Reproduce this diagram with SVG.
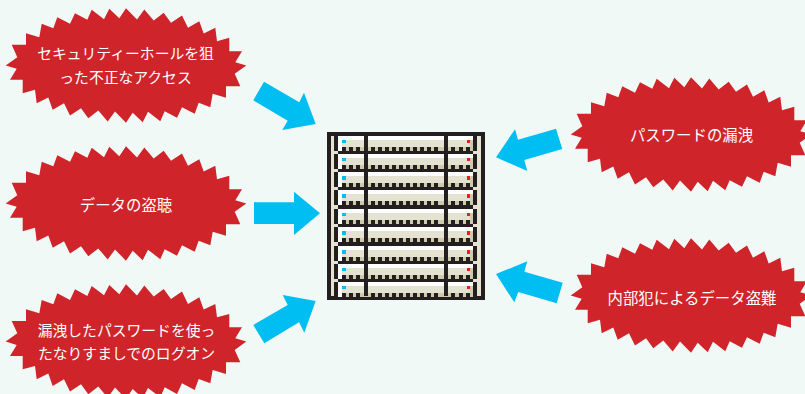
<svg xmlns="http://www.w3.org/2000/svg" width="805" height="394" viewBox="0 0 805 394">
<style>
.t{font-family:"Noto Sans CJK JP","Liberation Sans",sans-serif;font-size:15.4px;fill:#fff;text-anchor:middle}
.s{font-size:14.8px}
.b{fill:#d0242b}
.a{fill:#00bdf2}
.d{fill:#231f20}
.c{fill:#e4e2d0}
.e{fill:#cfcba8}
.r{fill:#ed1c24}
</style>
<defs>
<polygon id="burst" class="b" points="-120.3,0 -108.7,-8.3 -114.3,-20.7 -100,-20.7 -100,-32.3 -86.7,-28.3 -84.3,-41.7 -72.7,-37.3 -68.7,-48.3 -56,-41.7 -51,-52.3 -38.7,-45.7 -34.3,-55.7 -22,-46.3 -16.7,-56.7 -6.7,-47.3 0,-57.3 11,-46 18.3,-56 27.7,-45 37.7,-52.7 45,-42.7 56,-50 62,-37.7 73.3,-44.3 77.7,-32 89.3,-37.7 91,-24.3 103.3,-27.7 103.3,-14.3 116,-14.3 109.3,-3.3 120.3,0 108.7,8.3 114.3,20.7 100,20.7 100,32.3 86.7,28.3 84.3,41.7 72.7,37.3 68.7,48.3 56,41.7 51,52.3 38.7,45.7 34.3,55.7 22,46.3 16.7,56.7 6.7,47.3 0,57.3 -11,46 -18.3,56 -27.7,45 -37.7,52.7 -45,42.7 -56,50 -62,37.7 -73.3,44.3 -77.7,32 -89.3,37.7 -91,24.3 -103.3,27.7 -103.3,14.3 -116,14.3 -109.3,3.3"/>
<g id="unit">
<rect x="334" y="0" width="143" height="15" class="d"/>
<rect x="338" y="0" width="135" height="15" fill="#fff"/>
<rect x="342" y="4" width="131" height="7" class="c"/>
<rect x="470" y="4" width="3" height="11" class="e"/>
<rect x="342" y="11" width="131" height="4" class="e"/>
<rect x="342" y="4" width="4" height="3" class="a"/>
<rect x="467" y="4" width="3" height="3" class="r"/>
<path class="d" d="M342 11h4v4h-4zM349 11h4v4h-4zM356 11h4v4h-4zM371 11h4v4h-4zM378 11h4v4h-4zM385 11h4v4h-4zM392 11h4v4h-4zM399 11h4v4h-4zM406 11h4v4h-4zM413 11h4v4h-4zM420 11h4v4h-4zM427 11h4v4h-4zM434 11h4v4h-4zM451 11h4v4h-4zM459 11h4v4h-4zM466 11h4v4h-4z"/>
</g>
</defs>
<rect width="805" height="394" fill="#f1f9f6"/>
<g id="connectors">
<polygon class="a" points="264,81.7 299.3,102.3 304,92.7 315.7,124 282.3,130 287.7,120.7 253.3,100.3"/>
<polygon class="a" points="254,202.3 294,202.3 294,191.7 320,213.3 294,235 294,224 254,224"/>
<polygon class="a" points="253.3,325 287.7,305 282.7,295 315.7,301 304.3,332.7 299,322.3 264.3,343.3"/>
<polygon class="a" points="556,128.7 562.3,149 524.3,160 527.3,171 496,157.3 515,129.3 518,139.7"/>
<polygon class="a" points="562.7,282.7 556.7,303.3 518.3,292 514.3,302.3 496,274 527.3,261.3 524.3,271.7"/>
</g>
<g id="server">
<rect x="327" y="132" width="158" height="168" class="d"/>
<rect x="331" y="136" width="150" height="160" class="c"/>
<rect x="338" y="136" width="135" height="160" class="d"/>
<use href="#unit" y="136"/><use href="#unit" y="154"/><use href="#unit" y="172"/><use href="#unit" y="190"/><use href="#unit" y="209"/><use href="#unit" y="227"/><use href="#unit" y="246"/><use href="#unit" y="264"/><use href="#unit" y="282"/>
<path class="a" d="M342 176h4v4h-4zM342 194h4v4h-4zM342 231h4v4h-4zM342 250h4v4h-4z"/>
<path class="r" d="M467 176h3v4h-3zM467 194h3v4h-3zM467 231h3v4h-3zM467 250h3v4h-3z"/>
<path class="d" d="M364 136h4v160h-4zM444 136h4v160h-4z"/>
</g>
<g id="n1"><use href="#burst" x="126" y="65.5"/><text class="t s" y="58.5"><tspan x="125.5">セキュリティーホールを狙</tspan><tspan x="125.5" dy="24">った不正なアクセス</tspan></text></g>
<g id="n2"><use href="#burst" x="126" y="203.5"/><text class="t" x="126" y="210.5">データの盗聴</text></g>
<g id="n3"><use href="#burst" x="126" y="341.6"/><text class="t s" y="335.5"><tspan x="126.5">漏洩したパスワードを使っ</tspan><tspan x="126.5" dy="23">たなりすましでのログオン</tspan></text></g>
<g id="n4"><use href="#burst" x="691" y="134.5"/><text class="t" x="691.5" y="140.5">パスワードの漏洩</text></g>
<g id="n5"><use href="#burst" x="691" y="295.5"/><text class="t" x="692" y="303.5">内部犯によるデータ盗難</text></g>
</svg>
